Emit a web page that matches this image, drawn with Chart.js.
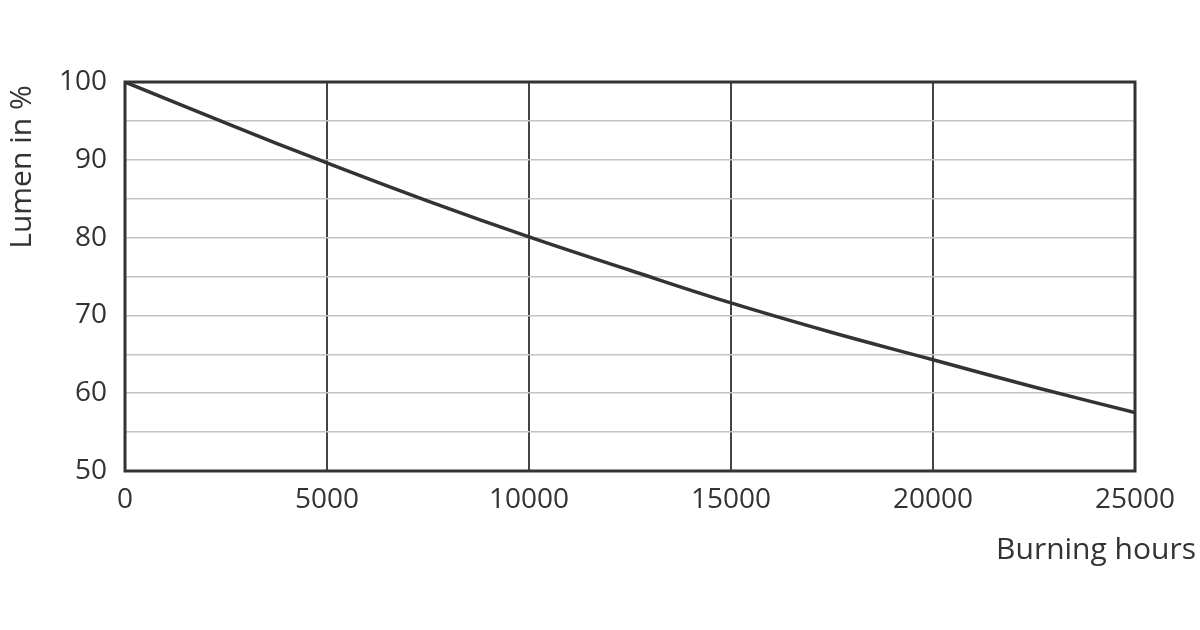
<!DOCTYPE html>
<html>
<head>
<meta charset="utf-8">
<script src="https://cdn.jsdelivr.net/npm/chart.js@4/dist/chart.umd.min.js"></script>
<style>
  html, body { margin: 0; padding: 0; background: #fff; }
  #wrap { width: 1200px; height: 630px; }
</style>
</head>
<body>
<div id="wrap"><canvas id="graficoLumen" width="1200" height="630"></canvas></div>
<script>
// datos
const horas = [0, 2500, 5000, 7500, 10000, 12500, 15000, 17500, 20000, 22500, 25000];
const lumen = [100, 94.7, 89.6, 84.7, 80.1, 75.8, 71.6, 67.8, 64.3, 60.8, 57.5];
const tituloX = 'Burning hours';
const tituloY = 'Lumen in %';

const fuente = '"Open Sans", "Noto Sans", sans-serif';
const colorTexto = '#333';

// marco y titulos de ejes
const extras = {
    id: 'extras',
    afterDraw(chart) {
        const { ctx, chartArea: a } = chart;
        ctx.save();
        ctx.strokeStyle = '#333';
        ctx.lineWidth = 3;
        ctx.strokeRect(a.left, a.top, a.right - a.left, a.bottom - a.top);

        ctx.fillStyle = colorTexto;
        ctx.font = '30px ' + fuente;
        ctx.textAlign = 'right';
        ctx.textBaseline = 'middle';
        ctx.fillText(tituloX, 1196, 550);

        ctx.translate(22, 167);
        ctx.rotate(-Math.PI / 2);
        ctx.textAlign = 'center';
        ctx.fillText(tituloY, 0, 0);
        ctx.restore();
    }
};

const ctxLumen = document.getElementById('graficoLumen');

let lumenChart = new Chart(ctxLumen, {
    type: 'line',
    data: {
        datasets: [{
            data: horas.map((h, i) => ({ x: h, y: lumen[i] })),
            borderColor: '#333',
            borderWidth: 3.5,
            pointRadius: 0,
            tension: 0.4,
            fill: false
        }]
    },
    options: {
        responsive: false,
        animation: false,
        layout: { padding: { top: 82, right: 65, left: 0, bottom: 0 } },
        plugins: { legend: { display: false }, tooltip: { enabled: false } },
        scales: {
            x: {
                type: 'linear',
                min: 0,
                max: 25000,
                afterFit: s => { s.height = 159; },
                border: { display: false },
                grid: { color: '#444', lineWidth: 2, drawTicks: false },
                ticks: {
                    stepSize: 5000,
                    padding: 12,
                    color: colorTexto,
                    font: { family: fuente, size: 28 },
                    maxRotation: 0,
                    callback: v => String(v)
                }
            },
            y: {
                min: 50,
                max: 100,
                afterFit: s => { s.width = 125; },
                border: { display: false },
                grid: { color: '#c4c4c4', lineWidth: 1.5, drawTicks: false },
                ticks: {
                    stepSize: 5,
                    padding: 18,
                    color: colorTexto,
                    font: { family: fuente, size: 28 },
                    callback: v => (v % 10 === 0 ? String(v) : '')
                }
            }
        }
    },
    plugins: [extras]
});
</script>
</body>
</html>
